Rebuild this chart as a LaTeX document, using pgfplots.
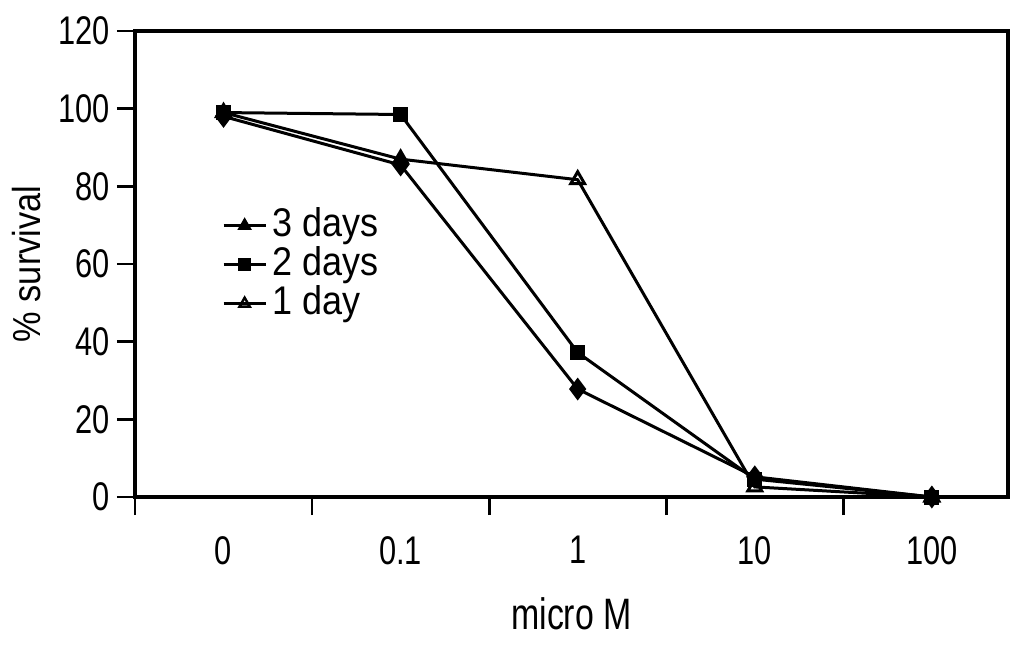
\documentclass[border=0pt]{standalone}
\usepackage{fontspec}
\setmainfont{Liberation Sans}[FakeStretch=0.77]
\newfontfamily\legfont{Liberation Sans}[FakeStretch=0.9]
\newfontfamily\ylabfont{Liberation Sans}[FakeStretch=0.88]
\usepackage{pgfplots}
\pgfplotsset{compat=1.18}
\begin{document}
\begin{tikzpicture}
\begin{axis}[
  scale only axis, width=436.5pt, height=233pt,
  xmin=-0.5, xmax=4.43, ymin=0, ymax=120,
  axis line style={line width=1.7pt},
  tick align=outside, tick pos=left,
  ytick={0,20,...,120},
  xtick={-0.5,0.5,1.5,2.5,3.5}, xticklabels={},
  major tick length=9pt,
  tick style={line width=1.4pt, black},
  extra x ticks={0,1,2,3,4},
  extra x tick labels={0,0.1,1,10,100},
  extra x tick style={tick style={draw=none}, xticklabel style={yshift=-7pt}},
  /pgf/number format/assume math mode=true,
  every tick label/.append style={font=\fontsize{20}{24}\selectfont},
  xlabel={micro M}, ylabel={\% survival},
  xlabel style={font=\fontsize{22}{26}\selectfont, at={(axis description cs:0.5,-0.251)}, anchor=center},
  ylabel style={font=\ylabfont\fontsize{19.5}{23}\selectfont, at={(axis description cs:-0.124,0.5)}, anchor=center},
  clip=false,
  legend style={at={(0.0997,0.625)}, anchor=north west, draw=none, fill=none, inner sep=0pt,
    font=\legfont\fontsize{20}{24}\selectfont, row sep=0pt,
    nodes={inner xsep=0pt, inner ysep=0pt, text height=15.2pt, text depth=4.3pt},
    /tikz/every odd column/.append style={column sep=3pt}},
  legend cell align=left,
  legend image code/.code={\draw[mark repeat=2,mark phase=2,#1] plot coordinates {(0pt,0pt)(10.5pt,0pt)(21pt,0pt)};},
]
\addplot[black, line width=1.5pt, mark=diamond*, mark size=4.5pt, forget plot] coordinates {(0,98)(1,85.5)(2,27.8)(3,5.2)(4,0)};
\addplot[black, line width=1.5pt, mark=square*, mark size=3pt, forget plot] coordinates {(0,99)(1,98.5)(2,37.2)(3,4.6)(4,0)};
\addplot[black, line width=1.5pt, mark=triangle, mark options={fill=white}, mark size=4pt, forget plot] coordinates {(0,99)(1,87)(2,81.7)(3,2.6)(4,0)};
\addlegendimage{black, line width=1.2pt, mark=triangle*, mark size=3pt}
\addlegendentry{3 days}
\addlegendimage{black, line width=1.2pt, mark=square*, mark size=2.5pt}
\addlegendentry{2 days}
\addlegendimage{black, line width=1.2pt, mark=triangle, mark options={fill=white}, mark size=3pt}
\addlegendentry{1 day}
\end{axis}
\path ([xshift=-67.5pt,yshift=-73.5pt]current axis.south west) rectangle ([xshift=2.5pt,yshift=15.5pt]current axis.north east);
\end{tikzpicture}
\end{document}
